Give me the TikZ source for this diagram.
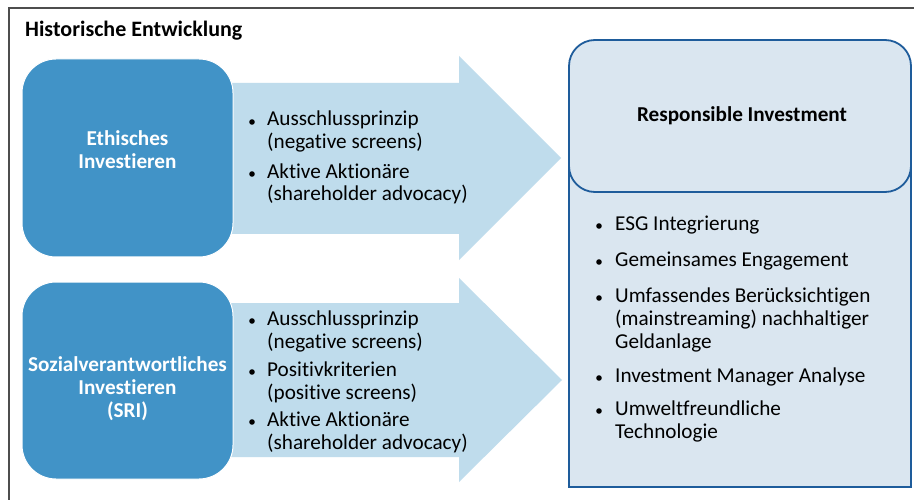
\documentclass[tikz,border=0pt]{standalone}
\usepackage{fontspec}
\setmainfont{Carlito}[RawFeature={-liga;-clig;-calt;-dlig}]
\definecolor{boxblue}{HTML}{4193C7}
\definecolor{arrowblue}{HTML}{BFDCEC}
\definecolor{paleblue}{HTML}{DAE6F0}
\definecolor{edgeblue}{HTML}{1E5C9B}
\definecolor{framegray}{HTML}{4D4D4D}
\begin{document}
\begin{tikzpicture}[x=1pt,y=-1pt,
  txt/.style={inner sep=0pt,font=\fontsize{21.2}{23}\selectfont,align=left},
  headtxt/.style={inner sep=0pt,font=\fontsize{21.2}{23}\selectfont\bfseries,align=center},
  srcbox/.style={fill=boxblue,draw=white,line width=1pt,rounded corners=34pt},
  flow/.style={fill=arrowblue},
  goal/.style={fill=paleblue,draw=edgeblue,line width=1.8pt},
  dot/.style={fill=black}]
\useasboundingbox (0,0) rectangle (914,500);
\fill[white] (0,0) rectangle (914,500);
% frame
\draw[framegray,line width=1.5pt] (9,500) -- (9,8) -- (914,8);
\node[headtxt,font=\fontsize{22}{24}\selectfont\bfseries,anchor=base west] (title) at (25,37) {Historische Entwicklung};

% arrows
\fill[flow] (200,83) -- (459,83) -- (459,56) -- (561,158) -- (459,260) -- (459,234) -- (200,234) -- cycle;
\fill[flow] (200,303) -- (459,303) -- (459,278) -- (562,380) -- (459,482) -- (459,457) -- (200,457) -- cycle;

% source boxes
\path[srcbox] (22,59) rectangle (233,257);
\path[srcbox] (22,282) rectangle (233,479);
% multi-line nodes: the base anchor sits on the last line
\node[headtxt,text=white,anchor=base] (eth) at (127.5,169) {Ethisches\\Investieren};
\node[headtxt,text=white,anchor=base] (sri) at (127.5,417) {Sozialverantwortliches\\Investieren\\(SRI)};

% target box
\path[goal] (569,150) rectangle (911,487);
\path[goal,rounded corners=26pt] (569,40) rectangle (911,192);
\node[headtxt,anchor=base] (ri) at (742,122) {Responsible Investment};

% list in first arrow
\node[txt,anchor=base west] (a1) at (267,149) {Ausschlussprinzip\\(negative screens)};
\node[txt,anchor=base west] (a2) at (267,201) {Aktive Aktionäre\\(shareholder advocacy)};
\foreach \y in {126,178} \fill[dot] (252,\y-4) circle (2.8);

% list in second arrow
\node[txt,anchor=base west] (b1) at (267,348) {Ausschlussprinzip\\(negative screens)};
\node[txt,anchor=base west] (b2) at (267,399) {Positivkriterien\\(positive screens)};
\node[txt,anchor=base west] (b3) at (267,449) {Aktive Aktionäre\\(shareholder advocacy)};
\foreach \y in {325,376,426} \fill[dot] (252,\y-4) circle (2.8);

% list in target box
\node[txt,anchor=base west] (c1) at (615,230) {ESG Integrierung};
\node[txt,anchor=base west] (c2) at (615,266) {Gemeinsames Engagement};
\node[txt,anchor=base west] (c3) at (615,348) {Umfassendes Berücksichtigen\\(mainstreaming) nachhaltiger\\Geldanlage};
\node[txt,anchor=base west] (c4) at (615,382) {Investment Manager Analyse};
\node[txt,anchor=base west] (c5) at (615,438) {Umweltfreundliche\\Technologie};
\foreach \y in {230,266,302,382,415} \fill[dot] (599,\y-4) circle (2.8);
\end{tikzpicture}
\end{document}
